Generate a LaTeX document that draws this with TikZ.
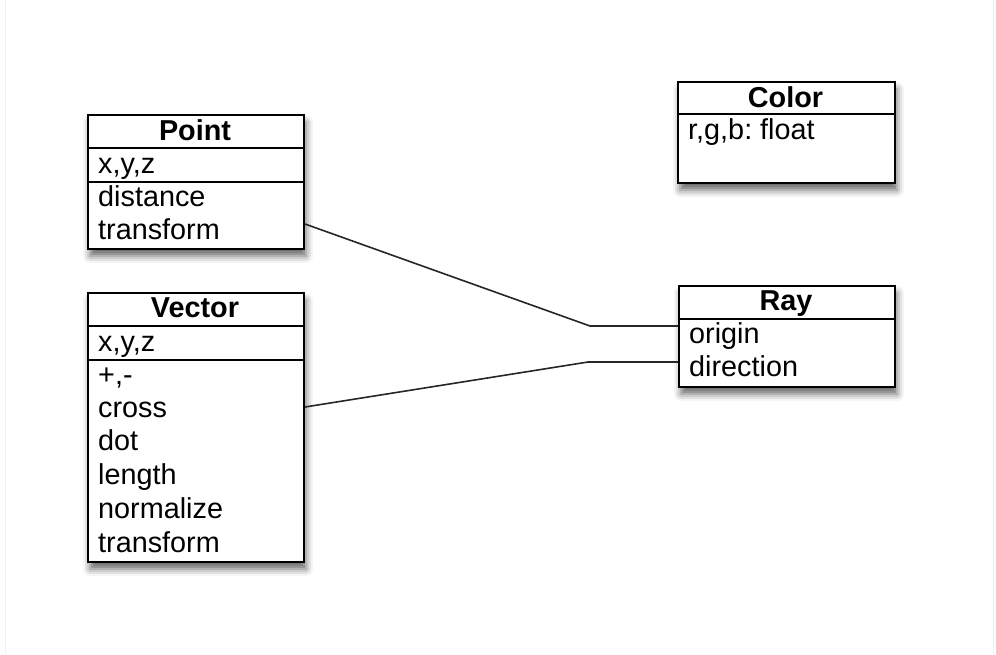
\documentclass[tikz,border=0pt]{standalone}
\usepackage{fontspec}
\setmainfont{Liberation Sans}
\frenchspacing
\usetikzlibrary{shadows.blur,calc}
\tikzset{
  classbox/.style={draw=black, line width=2pt, fill=white, rectangle, inner sep=0pt,
    anchor=north west,
    blur shadow={shadow xshift=2pt, shadow yshift=-7pt, shadow blur radius=7pt, shadow opacity=60}},
  sep/.style={line width=2pt},
  ttl/.style={font=\fontsize{28.8}{33}\selectfont\bfseries, anchor=base, inner sep=0pt},
  txt/.style={font=\fontsize{28.8}{33}\selectfont, anchor=base west, inner sep=0pt},
  conn/.style={line width=1.6pt, draw=black!85}
}
\begin{document}
\begin{tikzpicture}[x=1pt,y=-1pt]
\useasboundingbox (0,0) rectangle (996,654);
\draw[black!6, line width=1pt] (5,0) -- (5,654) (993,0) -- (993,654);

% Point
\node[classbox, minimum width=216pt, minimum height=134pt] (point) at (87,114) {};
\draw[sep] (87,148) -- (303,148) (87,182) -- (303,182);
\node[ttl] (pointT) at (195,140) {Point};
\node[txt] (pointA) at (98,173) {x,y,z};
\node[txt] (pointM1) at (98,206) {distance};
\node[txt] (pointM2) at (98,239) {transform};

% Vector
\node[classbox, minimum width=216pt, minimum height=269pt] (vector) at (87,292) {};
\draw[sep] (87,326) -- (303,326) (87,360) -- (303,360);
\node[ttl] (vectorT) at (195,317) {Vector};
\node[txt] (vectorA) at (98,351) {x,y,z};
\node[txt] (vectorM1) at (98,384) {+,-};
\node[txt] (vectorM2) at (98,417) {cross};
\node[txt] (vectorM3) at (98,450) {dot};
\node[txt] (vectorM4) at (98,484) {length};
\node[txt] (vectorM5) at (98,518) {normalize};
\node[txt] (vectorM6) at (98,552) {transform};

% Color
\node[classbox, minimum width=217pt, minimum height=101pt] (color) at (677,81) {};
\draw[sep] (677,114) -- (894,114);
\node[ttl] (colorT) at (785.5,107) {Color};
\node[txt] (colorA) at (688,139) {r,g,b: float};

% Ray
\node[classbox, minimum width=216pt, minimum height=101pt] (ray) at (678,285) {};
\draw[sep] (678,319) -- (894,319);
\node[ttl] (rayT) at (786,310) {Ray};
\node[txt] (rayA1) at (689,343) {origin};
\node[txt] (rayA2) at (689,376) {direction};

% Connectors
\coordinate (b1) at (590,326);
\coordinate (b2) at (588,362);
\draw[conn] ([yshift=26pt]point.south east) -- (b1) -- ([yshift=-41pt]ray.north west);
\draw[conn] ([yshift=-115pt]vector.north east) -- (b2) -- ([yshift=-77pt]ray.north west);
\end{tikzpicture}
\end{document}
